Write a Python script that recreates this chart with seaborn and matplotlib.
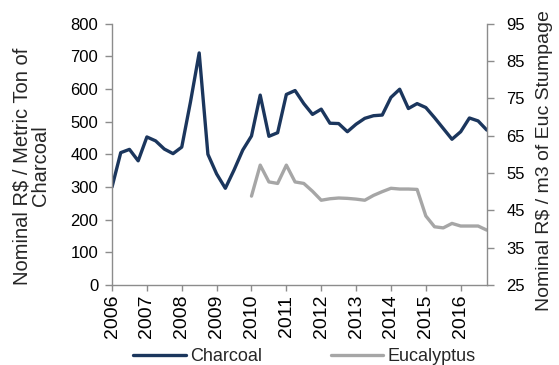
import numpy as np
import pandas as pd
import matplotlib
matplotlib.use("Agg")
import matplotlib.pyplot as plt
import seaborn as sns
from matplotlib.lines import Line2D

# Quarterly observations, 2006Q1 .. 2016Q4
start_quarter = "2006Q1"
end_quarter = "2016Q4"

charcoal = [300, 405, 415, 380, 453, 441, 416, 402, 422, 560, 710, 400,
            340, 296, 352, 413, 456, 581, 455, 466, 583, 595, 555, 522,
            538, 495, 494, 469, 492, 510, 518, 520, 574, 599, 540, 555,
            543, 512, 479, 446, 469, 511, 502, 474]

eucalyptus = [np.nan] * 16 + [48.8, 57.1, 52.6, 52.2, 57.1, 52.6, 52.2, 50.1,
                              47.7, 48.1, 48.3, 48.2, 48.0, 47.7, 49.0, 50.0,
                              50.9, 50.7, 50.7, 50.6, 43.5, 40.6, 40.3, 41.5,
                              40.8, 40.8, 40.8, 39.7]

year_ticks = list(range(2006, 2017))
left_ticks = list(range(0, 801, 100))
right_ticks = list(range(25, 96, 10))

periods = pd.period_range(start_quarter, end_quarter, freq="Q")
df = pd.DataFrame({
    "t": [p.year + (p.quarter - 1) / 4 for p in periods],
    "Charcoal": charcoal,
    "Eucalyptus": eucalyptus,
})

sns.set_style("white")
plt.rcParams["font.family"] = ["Liberation Sans", "DejaVu Sans"]
plt.rcParams["font.size"] = 12

navy = "#1B365D"
grey = "#A6A6A6"
axis_grey = "#8C8C8C"

fig = plt.figure(figsize=(5.59, 3.65), dpi=100)
ax = fig.add_axes([0.2004, 0.219, 0.6705, 0.7166])
ax2 = ax.twinx()

sns.lineplot(data=df, x="t", y="Charcoal", ax=ax, color=navy, linewidth=2.4,
             legend=False)
sns.lineplot(data=df, x="t", y="Eucalyptus", ax=ax2, color=grey, linewidth=2.4,
             legend=False)

ax.set_xlim(df["t"].iloc[0], df["t"].iloc[-1])
ax.set_ylim(0, 800)
ax2.set_ylim(25, 95)
ax.set_xticks(year_ticks)
ax.set_xticklabels([str(y) for y in year_ticks], rotation=90, fontsize=14)
ax.set_yticks(left_ticks)
ax2.set_yticks(right_ticks)

ax.set_xlabel("")
ax.set_ylabel("Nominal R$ / Metric Ton of\nCharcoal", linespacing=1.0,
              fontsize=14.5)
ax.yaxis.set_label_coords(-0.165, 0.455)
ax2.set_ylabel("Nominal R$ / m3 of Euc Stumpage", fontsize=14)
ax2.yaxis.set_label_coords(1.13, 0.475)

for a in (ax, ax2):
    for s in a.spines.values():
        s.set_color(axis_grey)
        s.set_linewidth(1.0)
    a.spines["top"].set_visible(False)
    a.tick_params(axis="both", which="both", direction="out", length=5,
                  width=1.0, color=axis_grey, labelcolor="black", pad=5)
ax.tick_params(axis="x", length=4, pad=3)
ax2.tick_params(axis="y", pad=9)
ax2.spines["left"].set_visible(False)
ax2.spines["bottom"].set_visible(False)
ax.spines["right"].set_visible(False)
ax.tick_params(left=True, bottom=True)
ax2.tick_params(right=True)

handles = [Line2D([], [], color=navy, linewidth=2.4),
           Line2D([], [], color=grey, linewidth=2.4)]
fig.legend(handles, ["Charcoal", "Eucalyptus"], loc="center",
           bbox_to_anchor=(0.545, 0.022), ncol=2, frameon=False,
           handlelength=2.9, handletextpad=0.25, columnspacing=3.8,
           fontsize=13)

fig.savefig("out.png", dpi=100)
